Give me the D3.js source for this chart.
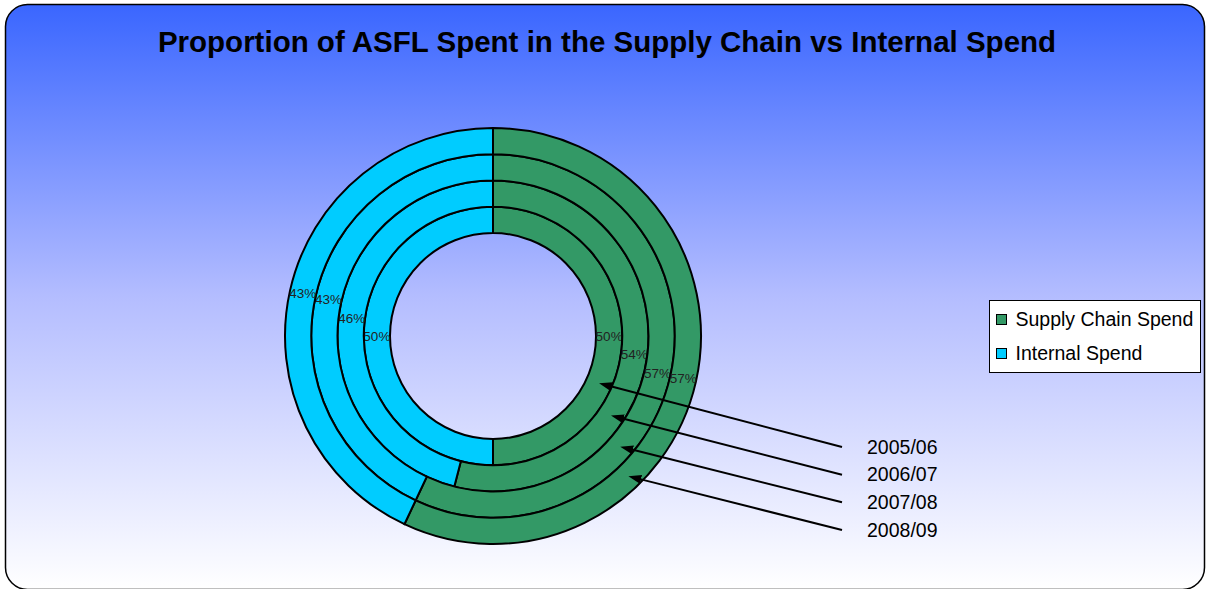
<!DOCTYPE html>
<html>
<head>
<meta charset="utf-8">
<script src="https://cdn.jsdelivr.net/npm/d3@7"></script>
<style>
  body { margin: 0; background: #fff; }
  svg { display: block; font-family: "Liberation Sans", Arial, sans-serif; }
</style>
</head>
<body>
<svg width="1209" height="589"></svg>
<script>
// data, inner ring first
var years = ["2005/06", "2006/07", "2007/08", "2008/09"];
var series = ["Supply Chain Spend", "Internal Spend"];
var supplyChain = [50, 54, 57, 57];
var internal = [50, 46, 43, 43];
// where the year arrows touch each ring (degrees clockwise from 12 o'clock)
var arrowAngles = [114, 124, 131, 136];

var svg = d3.select("svg"),
    width = +svg.attr("width"),
    height = +svg.attr("height");

var colors = d3.scaleOrdinal().domain(series).range(["#339966", "#00ccff"]);

var defs = svg.append("defs");
var grad = defs.append("linearGradient")
    .attr("id", "bg")
    .attr("x1", 0).attr("y1", 0).attr("x2", 0).attr("y2", 1);
grad.append("stop").attr("offset", "0%").attr("stop-color", "#3a66ff");
grad.append("stop").attr("offset", "50%").attr("stop-color", "#b4bdff");
grad.append("stop").attr("offset", "100%").attr("stop-color", "#ffffff");

defs.append("marker")
    .attr("id", "head")
    .attr("viewBox", "0 0 13 9")
    .attr("refX", 1).attr("refY", 4.5)
    .attr("markerUnits", "userSpaceOnUse")
    .attr("markerWidth", 13).attr("markerHeight", 9)
    .attr("orient", "auto")
    .append("path")
    .attr("d", "M13,4.5L0,0L0,9Z")
    .attr("fill", "#000");

svg.append("rect")
    .attr("x", 5.5).attr("y", 4.5)
    .attr("width", width - 10).attr("height", height - 4)
    .attr("rx", 22).attr("ry", 22)
    .attr("fill", "url(#bg)")
    .attr("stroke", "#000")
    .attr("stroke-width", 1.5);

svg.append("text")
    .attr("x", 607).attr("y", 52)
    .attr("text-anchor", "middle")
    .attr("font-size", 29.5)
    .attr("font-weight", "bold")
    .text("Proportion of ASFL Spent in the Supply Chain vs Internal Spend");

var cx = 493, cy = 336;
var g = svg.append("g").attr("transform", "translate(" + cx + "," + cy + ")");

// ring radii
var r = d3.scaleLinear().domain([0, years.length]).range([103, 208]);

var pie = d3.pie().sort(null).value(function (d) { return d.value; });

years.forEach(function (yr, i) {
    var data = [
        {key: series[0], value: supplyChain[i]},
        {key: series[1], value: internal[i]}
    ];
    var arc = d3.arc().innerRadius(r(i)).outerRadius(r(i + 1));
    var arcs = pie(data);
    var ring = g.append("g");
    ring.selectAll("path")
        .data(arcs)
        .enter().append("path")
        .attr("d", arc)
        .attr("fill", function (d) { return colors(d.data.key); })
        .attr("stroke", "#000")
        .attr("stroke-width", 2);
    ring.selectAll("text")
        .data(arcs)
        .enter().append("text")
        .attr("transform", function (d) { return "translate(" + arc.centroid(d) + ")"; })
        .attr("text-anchor", "middle")
        .attr("dy", "0.35em")
        .attr("font-size", 13.5)
        .attr("fill", "#222")
        .text(function (d) { return d.data.value + "%"; });
});

// year arrows
var labelX = 867, labelY = d3.scaleLinear().domain([0, 3]).range([447, 530]);
years.forEach(function (yr, i) {
    var a = arrowAngles[i] * Math.PI / 180,
        rm = (r(i) + r(i + 1)) / 2,
        x2 = cx + rm * Math.sin(a),
        y2 = cy - rm * Math.cos(a),
        x1 = 842, y1 = labelY(i),
        len = Math.hypot(x2 - x1, y2 - y1);
    // stop the shaft short so the head tip lands on the target point
    svg.append("line")
        .attr("x1", x1).attr("y1", y1)
        .attr("x2", x2 - (x2 - x1) / len * 12).attr("y2", y2 - (y2 - y1) / len * 12)
        .attr("stroke", "#000")
        .attr("stroke-width", 2)
        .attr("marker-end", "url(#head)");
    svg.append("text")
        .attr("x", labelX).attr("y", labelY(i))
        .attr("dy", "0.35em")
        .attr("font-size", 19.5)
        .text(yr);
});

// legend
var legend = svg.append("g").attr("transform", "translate(989.5,300.5)");
legend.append("rect")
    .attr("width", 211).attr("height", 72)
    .attr("fill", "#fff")
    .attr("stroke", "#000");
series.forEach(function (s, i) {
    var row = legend.append("g").attr("transform", "translate(0," + (19 + i * 34) + ")");
    row.append("rect")
        .attr("x", 7).attr("y", -5)
        .attr("width", 10).attr("height", 10)
        .attr("fill", colors(s))
        .attr("stroke", "#000");
    row.append("text")
        .attr("x", 26).attr("dy", "0.35em")
        .attr("font-size", 19.5)
        .text(s);
});
</script>
</body>
</html>
